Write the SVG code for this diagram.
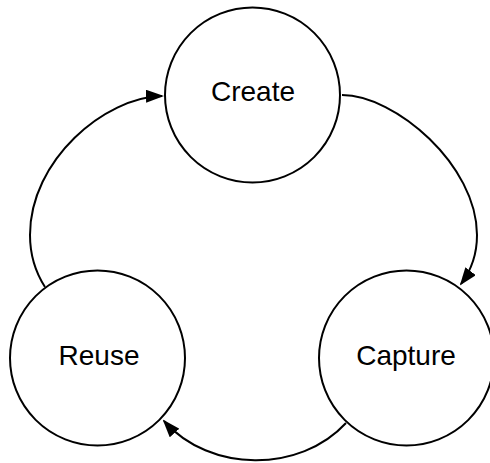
<svg xmlns="http://www.w3.org/2000/svg" width="490" height="463" viewBox="0 0 490 463">
  <style>
    .node circle { fill: #ffffff; stroke: #000000; stroke-width: 2; }
    .node text { font-family: "Liberation Sans", Arial, sans-serif; font-size: 28px; fill: #000000; text-anchor: middle; }
    .edge { fill: none; stroke: #000000; stroke-width: 2; marker-end: url(#arrow); }
  </style>
  <defs>
    <marker id="arrow" markerUnits="userSpaceOnUse" viewBox="0 0 18 13" markerWidth="18" markerHeight="13" refX="16" refY="6.5" orient="auto">
      <path d="M0,0 L18,6.5 L0,13 z" fill="#000000"/>
    </marker>
  </defs>

  <!-- cycle connectors -->
  <g id="connectors">
    <path class="edge" d="M342,95 C395,95 477,165 477,235 C477,255 470,272 461,284"/>
    <path class="edge" d="M346,423 C300,473 210,473 164,421"/>
    <path class="edge" d="M45,287 C36,273 30,256 30,235 C30,160 105,97 162,96"/>
  </g>

  <g id="create" class="node">
    <circle cx="252.5" cy="95" r="87.5"/>
    <text x="253" y="101">Create</text>
  </g>

  <g id="capture" class="node">
    <circle cx="406.5" cy="358" r="87.5"/>
    <text x="406" y="365">Capture</text>
  </g>

  <g id="reuse" class="node">
    <circle cx="97.5" cy="358" r="87.5"/>
    <text x="99" y="365">Reuse</text>
  </g>
</svg>
